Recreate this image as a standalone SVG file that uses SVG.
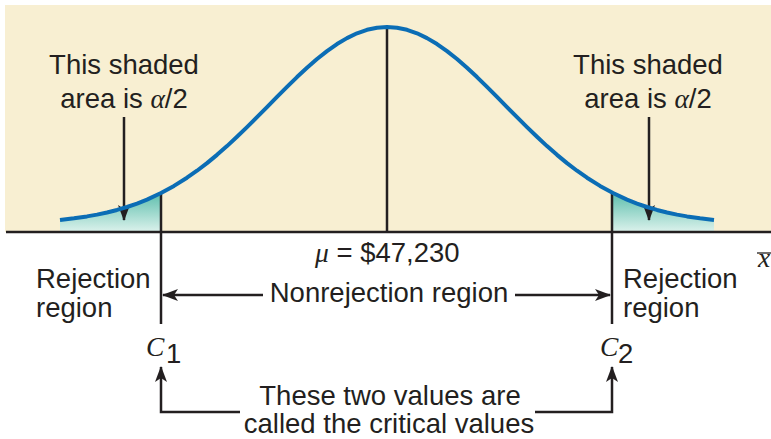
<svg xmlns="http://www.w3.org/2000/svg" width="771" height="439" viewBox="0 0 771 439">
<defs>
<style>
.t{font-family:"Liberation Sans",Arial,sans-serif;font-size:27.5px;fill:#231f20}
.m{font-family:"Liberation Serif","Times New Roman",serif;font-style:italic}
.ln{stroke:#231f20;stroke-width:2.5;fill:none}
.ar{stroke:#231f20;stroke-width:2.5;fill:none;marker-end:url(#ah)}
</style>
<marker id="ah" viewBox="0 0 16 12" refX="15" refY="6" markerWidth="16" markerHeight="12" markerUnits="userSpaceOnUse" orient="auto">
<path d="M0,0 L16,6 L0,12 L4,6 Z" fill="#231f20"/>
</marker>
<linearGradient id="sh" gradientUnits="userSpaceOnUse" x1="0" y1="188" x2="0" y2="232">
<stop offset="0" stop-color="#4db8a5"/>
<stop offset="1" stop-color="#dcf2ec"/>
</linearGradient>
</defs>
<rect width="771" height="439" fill="#ffffff"/>
<g id="background"><rect x="5" y="5" width="766" height="227" fill="#f8efd2"/></g>
<g id="shading">
<polygon points="60,219.9 74,218.34 87,216.4 97,214.63 107,212.5 117,209.95 127,207 137,203.52 147,199.6 161,193 161,232 60,232" fill="url(#sh)"/>
<polygon points="714,219.9 700,218.34 687,216.4 677,214.63 667,212.5 657,209.95 647,207 637,203.52 627,199.6 613,193 612,193 612,232 714,232" fill="url(#sh)"/>
</g>
<g id="connectors">
<line class="ln" x1="6" y1="232" x2="771" y2="232"/>
<line class="ln" x1="387" y1="27" x2="387" y2="232" stroke-width="2"/>
<line class="ln" x1="161" y1="193" x2="161" y2="324"/>
<line class="ln" x1="612" y1="192" x2="612" y2="324"/>
<line class="ar" x1="124" y1="117" x2="124" y2="220"/>
<line class="ar" x1="649" y1="117" x2="649" y2="220"/>
<line class="ar" x1="263" y1="295" x2="163" y2="295"/>
<line class="ar" x1="515" y1="295" x2="610" y2="295"/>
<polyline class="ar" points="240,412 161,412 161,367"/>
<polyline class="ar" points="535,412 612,412 612,367"/>
</g>
<g id="curve">
<polyline points="60,219.9 74,218.34 87,216.4 97,214.63 107,212.5 117,209.95 127,207 137,203.52 147,199.6 161,193 174,185.91 187,177.7 197,170.72 207,163.1 217,154.84 227,146.1 237,136.8 247,127.1 257,117.19 267,107.1 277,96.91 287,86.9 297,77.09 307,67.8 317,59.04 327,51.1 337,44.05 347,38.1 357,33.32 367,29.8 377,27.71 387,27 397,27.71 407,29.8 417,33.32 427,38.1 437,44.05 447,51.1 457,59.04 467,67.8 477,77.09 487,86.9 497,96.91 507,107.1 517,117.19 527,127.1 537,136.8 547,146.1 557,154.84 567,163.1 577,170.72 587,177.7 600,185.91 613,193 627,199.6 637,203.52 647,207 657,209.95 667,212.5 677,214.63 687,216.4 700,218.34 714,219.9" fill="none" stroke="#0b6db5" stroke-width="4" stroke-linejoin="round" stroke-linecap="butt"/>
</g>
<g id="label-left-area">
<text class="t" x="124" y="74" text-anchor="middle">This shaded</text>
<text class="t" x="124" y="108" text-anchor="middle">area is <tspan class="m">α</tspan>/2</text>
</g>
<g id="label-right-area">
<text class="t" x="648" y="74" text-anchor="middle">This shaded</text>
<text class="t" x="648" y="108" text-anchor="middle">area is <tspan class="m">α</tspan>/2</text>
</g>
<g id="label-mean">
<text class="t" x="315" y="262"><tspan class="m">μ</tspan> = $47,230</text>
</g>
<g id="label-xbar">
<text class="t m" x="758" y="267">x</text>
<line x1="757" y1="253" x2="771" y2="253" stroke="#231f20" stroke-width="1.3"/>
</g>
<g id="left-rejection">
<text class="t" x="36" y="288">Rejection</text>
<text class="t" x="36" y="317">region</text>
</g>
<g id="right-rejection">
<text class="t" x="623" y="288">Rejection</text>
<text class="t" x="623" y="317">region</text>
</g>
<g id="nonrejection">
<text class="t" x="389" y="302" text-anchor="middle">Nonrejection region</text>
</g>
<g id="c1">
<text class="t m" x="146" y="356" font-size="28">C</text>
<text class="t" x="166" y="363" font-size="20">1</text>
</g>
<g id="c2">
<text class="t m" x="600" y="356" font-size="28">C</text>
<text class="t" x="618" y="363" font-size="20">2</text>
</g>
<g id="critical-note">
<text class="t" x="390" y="405" text-anchor="middle">These two values are</text>
<text class="t" x="389" y="433" text-anchor="middle">called the critical values</text>
</g>
</svg>
